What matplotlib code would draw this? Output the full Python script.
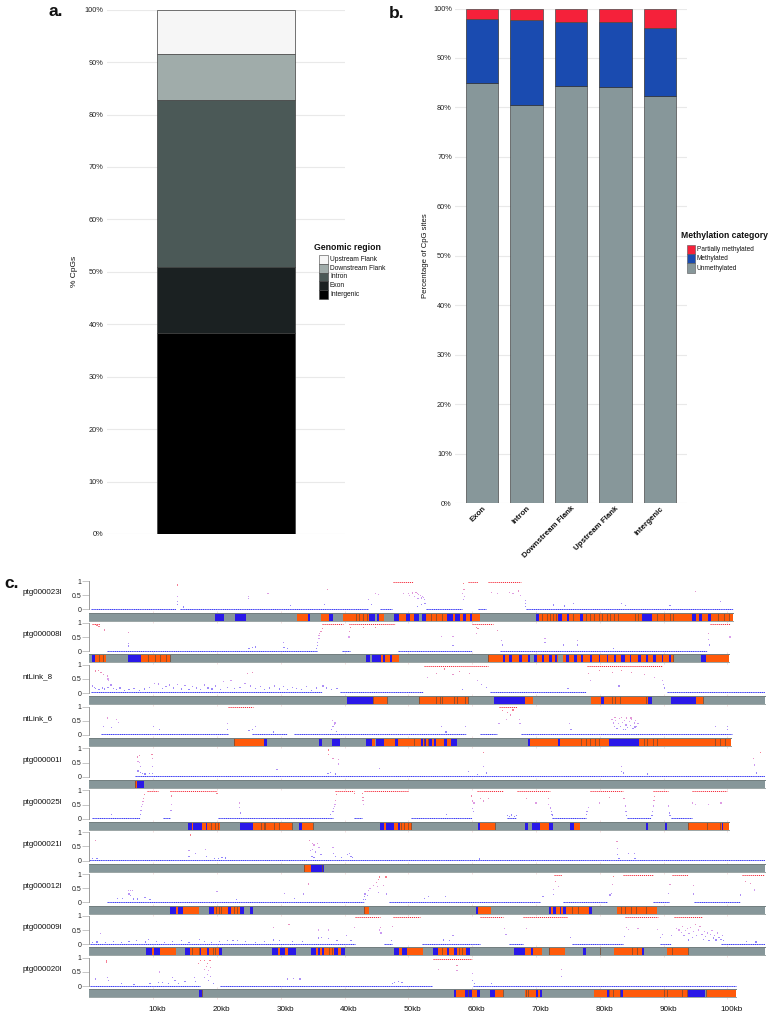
import matplotlib
matplotlib.use("Agg")
import matplotlib.pyplot as plt
from matplotlib.colors import LinearSegmentedColormap
from matplotlib.patches import Rectangle

plt.rcParams['font.family'] = ['Liberation Sans', 'DejaVu Sans']

W, H = 778, 1031

# PANEL A
region_names = ["Intergenic", "Exon", "Intron", "Downstream Flank", "Upstream Flank"]
region_pct = [38.3, 12.7, 31.8, 8.7, 8.5]
region_cols = ["#000000", "#1b2122", "#4b5957", "#a0acaa", "#f6f6f6"]

# PANEL B
feature_names = ["Exon", "Intron", "Downstream Flank", "Upstream Flank", "Intergenic"]
unmethylated = [85.0, 80.5, 84.3, 84.2, 82.3]
methylated = [12.8, 17.1, 13.0, 13.1, 13.8]
partial = [2.2, 2.4, 2.7, 2.7, 3.9]
meth_names = ["Partially methylated", "Methylated", "Unmethylated"]
meth_cols = ["#f5213a", "#1a4bb0", "#87979a"]

# PANEL C
track_names = ["ptg000023l", "ptg000008l", "ntLink_8", "ntLink_6", "ptg000001l",
               "ptg000025l", "ptg000021l", "ptg000012l", "ptg000009l", "ptg000020l"]
track_ends = [100.9, 100.3, 105.9, 100.5, 105.9, 100.2, 105.9, 105.9, 105.9, 101.3]
kb_ticks = [10, 20, 30, 40, 50, 60, 70, 80, 90, 100]

# runs of sites close to 0 and close to 1 (kb)
low_runs = [
    [(0.2, 13.6), (14.2, 43.7), (45.6, 47.4), (52.8, 58.4), (60.9, 62.2), (68.4, 100.9)],
    [(2.7, 35.6), (39.6, 40.9), (48.3, 60), (64.4, 96.8)],
    [(0.2, 36.4), (39.3, 52.3), (62.8, 77.9), (90.5, 105.9)],
    [(1.8, 21.8), (25.5, 30.9), (32, 59.1), (61.3, 63.9), (67.6, 100.7)],
    [(7.2, 105.9)],
    [(0.4, 8), (11.6, 12.7), (20.2, 38.2), (41.5, 42.8), (50.4, 59.9), (65.4, 66.9),
     (72.5, 77.9), (84.2, 88), (91.1, 94.4)],
    [(0, 105.9)],
    [(2.7, 43), (46.9, 70.6), (74.3, 81.2), (88.4, 90.8), (94.8, 101.9)],
    [(0.1, 41.6), (46.1, 47.4), (52.1, 61.2), (65.7, 68), (75.6, 83.7), (89.4, 91.1), (99, 105.9)],
    [(0.1, 17.3), (20.5, 53.7), (60.2, 101.3)],
]
high_runs = [
    [(47.6, 50.7), (59.4, 60.9), (62.4, 67.6)],
    [(0.4, 1.7), (36.4, 39.8), (40.9, 47.9), (60, 63.3), (97.2, 100.4)],
    [(52.4, 62.5), (78, 89.7)],
    [(21.8, 25.7), (64.2, 67)],
    [],
    [(9, 10.8), (12.9, 20), (38.5, 41.4), (43, 50), (60.7, 64.8), (67, 72.2), (78.5, 83.7),
     (88.4, 90.7), (94.4, 100)],
    [],
    [(72.8, 74.1), (83.7, 88.4), (91.3, 93.9), (102.3, 105.9)],
    [(41.6, 45.6), (47.6, 51.8), (61.2, 64.8), (68, 74.8), (84, 89.2), (91.6, 96)],
    [(53.9, 59.9)],
]

# sites away from the two plateaus: (kb, fraction methylated)
sites = [
    [(13.8, .86), (13.8, .45), (13.8, .28), (13.8, .16), (14.7, .08), (24.9, .45), (24.9, .37), (28, .55),
     (31.5, .13), (37.3, .69), (36.9, .16), (43.7, .34), (44.8, .55), (45.3, .51), (44.2, .16),
     (49.2, .55), (50, .57), (50.7, .58), (51.2, .6), (51.4, .55), (51.6, .52), (51.9, .5), (52.2, .45),
     (52, .4), (52.4, .42), (50.2, .5), (51, .45), (51.5, .38), (52.5, .35), (52.6, .2), (52, .18),
     (51.4, .1), (58.6, .92), (58.7, .7), (58.5, .55), (58.8, .45), (58.6, .35), (63, .6), (64, .55),
     (65.8, .6), (66.4, .55), (67.2, .65), (67.6, .5), (68.3, .3), (68.3, .2), (68.4, .1), (95, .63),
     (83.4, .2), (75.9, .2), (72.7, .15), (98.9, .28), (74.5, .12), (84, .14), (91, .13)],
    [(1, .95), (1.2, .9), (1.5, .88), (2.4, .75), (6.1, .65), (6.1, .28), (6.1, .18), (35.6, .1), (35.7, .2),
     (35.8, .3), (36, .45), (36, .55), (36.1, .62), (36.3, .7), (36.5, .8), (25, .1), (25.6, .12), (26, .15),
     (30.4, .3), (30.5, .12), (31, .1), (40.8, .95), (40.8, .7), (40.7, .5), (40.9, .85), (43, .85), (44.8, .85),
     (55.2, .53), (57, .53), (57, .2), (60.7, .85), (60.9, .8), (60.7, .62), (64, .72), (64.6, .38), (64.8, .22),
     (71.4, .45), (71.4, .3), (74.3, .22), (76.5, .37), (76.5, .22), (82.2, .1), (97, .62), (97, .4),
     (97.2, .22), (100.4, .5)],
    [(0.5, .25), (0.8, .2), (1, .78), (1.4, .8), (1.8, .72), (2.2, .65), (2.8, .6), (2.9, .5), (3, .45),
     (0.9, .15), (1.5, .12), (2, .18), (2.4, .14), (2.9, .2), (3.4, .28), (3.8, .15), (4.3, .12), (4.8, .18),
     (5.5, .1), (6.2, .12), (7, .16), (7.8, .1), (8.6, .14), (9.4, .2), (10.2, .35), (10.8, .32), (11.4, .16),
     (12, .22), (12.6, .28), (13.2, .18), (13.8, .3), (14.4, .14), (15, .26), (15.6, .12), (16.2, .22),
     (16.8, .18), (17.4, .12), (18, .28), (18.6, .18), (19.2, .14), (19.8, .25), (20.5, .12), (21, .42),
     (21.6, .2), (22.2, .45), (22.8, .15), (23.6, .2), (24.8, .68), (25.6, .72), (24.4, .35), (25.2, .25),
     (26, .15), (26.8, .22), (27.5, .12), (28.2, .18), (29, .25), (29.8, .14), (30.4, .22), (31, .12),
     (31.8, .2), (32.5, .16), (33.2, .12), (34, .22), (34.8, .1), (35.6, .18), (36.6, .25), (37.2, .18),
     (38, .12), (38.8, .15), (53, .55), (54.4, .7), (55.6, .85), (57, .65), (58, .75), (59.6, .7), (60.8, .45),
     (61.4, .3), (62.2, .2), (78.2, .7), (78.6, .45), (80, .8), (82, .72), (83.4, .8), (85, .72), (87, .65),
     (88.6, .55), (89.8, .45), (90, .3), (90.2, .18), (83, .25), (58.5, .12), (75, .15)],
    [(3.5, .25), (2.8, .6), (4.3, .55), (4.6, .45), (2.2, .3), (10, .3), (11, .2), (21.6, .4), (21.7, .2),
     (25, .15), (26, .3), (25.6, .2), (28.8, .1), (38.1, .5), (38.4, .38), (38.2, .3), (38, .2), (38.5, .42),
     (38.7, .12), (55.2, .3), (55.9, .1), (58.9, .3), (64.2, .4), (65.4, .55), (67.5, .4), (67.4, .55),
     (75.3, .4), (75.5, .2), (64.8, .85), (65.5, .78), (66, .7), (66.4, .88),
     (81.9, .55), (82.1, .42), (82.3, .3), (82.5, .5), (82.7, .22), (82.9, .4), (83.1, .58), (83.3, .3),
     (83.5, .45), (83.7, .2), (83.9, .52), (84.1, .35), (84.2, .6), (84.4, .25), (84.6, .48), (84.8, .32),
     (85, .55), (85.2, .22), (85.4, .42), (85.6, .5), (85.8, .3), (86, .4), (82.4, .62), (83.4, .62),
     (84.9, .6), (85.5, .28), (84, .18), (98.1, .3), (100, .2), (100, .3)],
    [(7.5, .7), (7.9, .75), (7.6, .55), (7.9, .5), (8, .35), (7.6, .2), (8, .15), (8.3, .12), (8.7, .1), (9.4, .12),
     (9.8, .8), (9.9, .65), (9.9, .35), (9.9, .12), (37.5, .95), (37.5, .8), (38.2, .65), (39, .6), (39.1, .45),
     (37.4, .12), (37.8, .15), (38.6, .1), (29.4, .25), (45.5, .3), (59.4, .18), (61.8, .85), (61.8, .35),
     (60.8, .08), (62.3, .13), (83.4, .36), (83.4, .18), (83.7, .13), (105.2, .87), (104.1, .65), (104.2, .42),
     (104.6, .13), (87.5, .1)],
    [(8, .15), (8.1, .3), (8.2, .42), (8.3, .5), (8.4, .6), (8.5, .7), (8.6, .85), (12.9, .5), (12.9, .8),
     (12.8, .95), (12.8, .3), (3.5, .15), (20, .9), (23.5, .4), (23.5, .55), (23.7, .2), (37.8, .15), (38.2, .25),
     (38.3, .35), (38.4, .42), (38.5, .5), (38.6, .65), (38.7, .85), (41.5, .9), (42.9, .75), (42.8, .9), (42.9, .65),
     (43, .5), (59.9, .8), (60, .62), (60.3, .55), (60.1, .35), (60.2, .25), (61.3, .72), (61.8, .62), (62.5, .7),
     (56, .15), (72, .5), (72.3, .38), (72.4, .25), (72.5, .15), (72.6, .12), (77.9, .15), (78, .25), (78.2, .4),
     (83.8, .7), (84, .45), (84.1, .25), (84.2, .1), (88.2, .1), (88.3, .25), (88.4, .45), (88.5, .65), (88.6, .78),
     (90.8, .45), (90.9, .2), (91, .12), (94.5, .55), (95, .5), (97, .5), (99, .55), (65.5, .12), (65.9, .08),
     (66.2, .13), (66.6, .07), (66.9, .12), (68.5, .7), (70, .55), (72, .7), (80, .55), (81.5, .75)],
    [(1, .7), (15.9, .9), (15.6, .35), (15.6, .15), (16.6, .25), (18.2, .4), (18.3, .15), (19.6, .06), (20.2, .08),
     (20.8, .1), (21.3, .09), (34.5, .7), (35, .6), (35.2, .55), (35.8, .6), (36, .45), (35, .4), (34.7, .35),
     (35.4, .3), (34.9, .15), (35.2, .1), (36.3, .2), (38.2, .45), (38.3, .25), (38.6, .15), (39.5, .1), (40.5, .2),
     (40.8, .25), (41, .15), (41.2, .1), (82.7, .68), (82.8, .43), (82.8, .2), (83, .08), (84.5, .25), (85.4, .25),
     (85.5, .08), (61.2, .05), (0.5, .08), (1.2, .06)],
    [(6.1, .42), (6.4, .42), (6.7, .42), (6.2, .3), (6.5, .25), (6.9, .12), (4.4, .15), (5.2, .14), (8.7, .18),
     (7.5, .12), (9.5, .1), (20, .38), (23.1, .1), (30.6, .32), (32.2, .15), (33.5, .3), (34.3, .65), (43, .1),
     (43.1, .2), (43.2, .3), (43.3, .1), (43.6, .25), (43.8, .42), (44, .5), (44.5, .6), (45, .7), (45.3, .8),
     (45.5, .9), (46.5, .9), (45.2, .55), (45.3, .35), (46.1, .6), (46.6, .3), (53.1, .2), (52.5, .15), (55.8, .2),
     (71.1, .2), (72.7, .45), (72.7, .28), (73.5, .55), (73, .75), (82.1, .92), (82, .62), (81.8, .32), (81.6, .26),
     (90.8, .32), (91, .62), (94.7, .6), (94.7, .3), (102.1, .26), (102.8, .74), (103.6, .68), (104.3, .44)],
    [(1.7, .38), (0.5, .06), (1.2, .08), (2.5, .07), (3.8, .1), (5, .07), (6.2, .09), (7.4, .12), (8.8, .08), (9.3, .18),
     (10.5, .1), (11.8, .07), (13, .09), (14.4, .12), (15.6, .07), (17.2, .18), (18, .1), (19.1, .07), (20.4, .09),
     (21.6, .12), (22.5, .14), (23.2, .12), (24.5, .1), (26, .07), (27.5, .1), (28.8, .15), (28.9, .6), (29.8, .12),
     (31.3, .7), (31.8, .1), (33.4, .09), (35.9, .5), (37.5, .5), (35.9, .22), (36.4, .25), (37.5, .2), (38.8, .12),
     (40.3, .32), (41.5, .58), (41, .12), (45.6, .6), (45.7, .4), (45.5, .5), (47.5, .62), (47.4, .12),
     (55.5, .15), (56.5, .12), (57, .3), (65.1, .55), (65.3, .35), (68.5, .55), (75.4, .25), (83.9, .28), (84.2, .6),
     (84.5, .52), (86, .55), (89, .52), (89.5, .25),
     (92, .55), (92.4, .5), (92.8, .42), (93, .62), (93.2, .3), (93.4, .48), (93.7, .55), (93.9, .15), (94, .38),
     (94.2, .6), (94.5, .25), (94.7, .45), (95, .7), (95.2, .3), (95.5, .5), (95.7, .62), (96, .35), (96.2, .18),
     (96.4, .45), (96.6, .28), (96.9, .4), (97.1, .12), (97.3, .35), (97.6, .48), (97.8, .22), (98, .32), (98.2, .15),
     (98.5, .4), (98.7, .25), (99, .18), (99.2, .32), (99.4, .12), (103, .1), (104.5, .08), (91.2, .3), (89.8, .35)],
    [(2.7, .9), (2.7, .85), (2.8, .3), (3, .2), (11, .5), (13, .3), (13.4, .2), (17.1, .8), (17.4, .9), (18, .9),
     (18.5, .8), (18.9, .9), (18.4, .7), (18, .6), (19, .65), (18.7, .55), (18.5, .4), (19, .35), (18, .3), (18.7, .2),
     (19.5, .1), (16.5, .3), (16.6, .15), (15, .15), (14, .1), (1, .25), (31, .25), (32, .27), (33, .25), (5, .08),
     (7, .07), (9.5, .1), (10.8, .14), (11.4, .12), (12.4, .08), (47.8, .12), (48.4, .16), (49, .13), (47.5, .1),
     (54.7, .6), (57.6, .74), (57.6, .56), (60, .45), (60, .2), (74, .59), (74, .33), (60.4, .1), (63, .08)],
]

# annotated intervals along each contig (kb)
orange_segs = [
    [(32.6, 34.3), (36.3, 37.5), (39.8, 43.9), (45.4, 46.1), (48.6, 49.6), (50.3, 50.9), (52.8, 56.1), (57, 57.3),
     (58.1, 58.5), (59, 59.7), (59.9, 61.3), (70.4, 86.6), (88.2, 100.9)],
    [(0.9, 2.6), (8.1, 12.7), (45.7, 48.5), (62.5, 69.1), (69.7, 73.5), (74.2, 91.6), (96.7, 100.3)],
    [(44.4, 46.7), (51.6, 59.4), (68.3, 69.6), (78.6, 87.6), (95, 96.2)],
    [(22.6, 27.4), (44.3, 44.8), (46.1, 56.6), (69.1, 81.5), (86.2, 100.5)],
    [(7.2, 7.5)],
    [(16.1, 16.3), (17.7, 20.5), (25.7, 31.7), (33.3, 35), (46.2, 46.5), (47.8, 50.5), (61.3, 63.5), (70.7, 72),
     (76, 76.9), (93.9, 100.2)],
    [(33.7, 34.7)],
    [(13.5, 13.9), (14.7, 17.2), (19.5, 21.7), (22.2, 23.6), (43.1, 43.9), (60.9, 63), (72.4, 78.3), (82.7, 88.9)],
    [(9.8, 10.1), (11, 13.5), (15.8, 20.3), (29.5, 29.8), (30.7, 31.2), (35.5, 40), (48.6, 49), (49.8, 52.3),
     (54.7, 59.7), (68.2, 71), (72.1, 74.5), (82.2, 86.6), (90.5, 93.8)],
    [(57.4, 60.7), (63.6, 64.8), (68.3, 71), (79.1, 93.9), (96.8, 101.3)],
]
blue_segs = [
    [(19.7, 21.1), (22.8, 24.6), (34.3, 34.6), (37.5, 38.2), (43.9, 44.7), (45.1, 45.4), (47.8, 48.6), (49.6, 50.3),
     (50.9, 51.6), (52.1, 52.8), (56.1, 57), (57.3, 58.1), (58.5, 59), (59.7, 59.9), (70, 70.4), (73.5, 74),
     (74.8, 75.2), (76.9, 77.3), (86.6, 88.2), (94.4, 95), (95.5, 96), (97, 97.5)],
    [(0.4, 0.9), (6, 8.1), (43.4, 44), (44.3, 45.7), (46, 46.3), (47.1, 47.5), (64.8, 65.2), (65.8, 66.2), (67.4, 67.8),
     (68.7, 69.1), (69.7, 70.1), (70.9, 71.3), (72.1, 72.5), (73, 73.3), (74.7, 75.1), (76, 76.4), (77, 77.4),
     (78.5, 78.7), (79.8, 80), (81.1, 81.3), (82.2, 82.6), (83.4, 84), (84.7, 84.9), (86, 86.4), (87.3, 87.6),
     (88.4, 88.8), (89.7, 89.9), (90.9, 91.2), (95.9, 96.7)],
    [(40.4, 44.4), (63.4, 68.3), (80.2, 80.6), (87.6, 88.2), (91.2, 95)],
    [(27.4, 27.8), (36, 36.5), (38, 39.3), (43.4, 44.3), (44.9, 46.1), (47.9, 48.3), (52, 52.3), (52.5, 52.8),
     (53.3, 53.7), (54, 54.3), (55.6, 56), (56.6, 57.6), (68.8, 69.1), (73.4, 73.8), (81.5, 86.2)],
    [(7.5, 8.5)],
    [(15.4, 16.1), (16.3, 17.7), (18.3, 18.5), (23.6, 25.7), (32.9, 33.3), (45.6, 46.2), (46.5, 47.8), (48.4, 48.7),
     (60.9, 61.3), (68.2, 68.8), (69.3, 70.7), (72, 72.6), (75.3, 76), (87.2, 87.6), (90.2, 90.6), (99.1, 99.3)],
    [(34.7, 36.7)],
    [(12.6, 13.5), (13.9, 14.7), (18.8, 19.5), (21.8, 22.2), (23.6, 24.2), (25.2, 25.6), (60.6, 60.9), (72, 72.4),
     (72.7, 73.1), (73.7, 73.9), (74.2, 74.7), (78.3, 78.7)],
    [(8.9, 9.8), (10.1, 11), (15, 15.8), (17.3, 17.5), (18.4, 18.8), (20.3, 20.8), (28.6, 29.5), (29.8, 30.7),
     (31.2, 32.4), (34.7, 35.5), (35.8, 36.1), (36.5, 36.8), (38.4, 39), (39.5, 40), (47.8, 48.6), (49, 49.8),
     (53.9, 54.7), (56.1, 56.4), (57.2, 57.6), (59.1, 59.7), (66.6, 68.2), (69.2, 69.5), (77.3, 77.9), (86.6, 87)],
    [(17.2, 17.6), (57.1, 57.4), (58.9, 59.9), (60.7, 61.2), (62.8, 63.6), (70, 70.3), (70.7, 71), (81.2, 81.5),
     (83.2, 83.7), (93.9, 96.5)],
]
dark_lines = [
    [41.8, 42.3, 42.9, 43.5, 53.5, 54.4, 55.2, 70.9, 71.7, 72.2, 72.7, 73.2, 75.8, 77.8, 78.5, 79.1, 79.8, 80.4, 81.1, 81.6,
     82.2, 82.8, 85.5, 86, 88.9, 90, 91, 91.5, 98.6, 99.4, 100.2],
    [1.5, 2.1, 9.2, 10.3, 11.1, 12, 12.6, 62.5, 91.5],
    [44.4, 46.6, 51.7, 54.4, 54.9, 55.2, 57.1, 57.6, 58.9, 59.3, 81.9, 82.4, 83.2, 87.2, 96.1],
    [22.6, 50.8, 52.4, 53, 77, 77.9, 78.5, 79.3, 79.8, 86.9, 87.4, 88.4, 89, 98.1, 98.8, 99.6],
    [7.2],
    [19, 19.7, 20.2, 26.9, 27.3, 27.6, 28.9, 29.7, 31.7, 35, 48.8, 49.3, 49.9, 50.4, 63.5, 93.9, 96.8, 98.8],
    [33.7, 36.4],
    [19.9, 20.3, 20.7, 22.7, 23.2, 43.1, 75.7, 76.6, 83.4, 84, 84.9, 85.6, 87.2],
    [16.1, 17.2, 19.3, 19.7, 37.6, 38.1, 55.2, 58, 58.4, 72.1, 80, 85, 85.8, 91.3, 93.9],
    [17.7, 59.4, 64.8, 68.4, 68.7, 81.5, 82, 83.1, 90, 90.6, 92.9, 93.7, 96.7],
]

px_per_kb = 6.38
x_start = 89.4
x_end = 765.0
first_top = 581.0
row_step = 41.87
row_h = 28.3
bar_gap = 3.2
bar_h = 8.0

GRAY = "#87979a"
ORANGE = "#ff5a0a"
BLUE = "#2a18e8"
DARK = "#7a4a30"
GRID = "#e9e9e9"

meth_cmap = LinearSegmentedColormap.from_list("meth", ["#3a3aff", "#c86ee6", "#ff2a2a"])


def px_axes(fig, left, top, right, bottom):
    return fig.add_axes([left/W, 1-bottom/H, (right-left)/W, (bottom-top)/H])


fig = plt.figure(figsize=(W/100, H/100), dpi=100)

# a. genomic region share
ax = px_axes(fig, 107, 9.7, 345, 534)
bottom = 0
for pct, col in zip(region_pct, region_cols):
    ax.bar(0, pct, bottom=bottom, width=0.584, color=col, edgecolor="#3c3c3c", linewidth=0.5, zorder=3)
    bottom += pct
ax.set_xlim(-0.5, 0.5)
ax.set_ylim(0, 100)
ax.set_yticks(range(0, 101, 10))
ax.set_yticklabels([f"{v}%" for v in range(0, 101, 10)], fontsize=5.3, color="#222222")
ax.set_xticks([])
ax.grid(axis="y", color=GRID, linewidth=0.8)
ax.set_axisbelow(True)
ax.tick_params(axis="y", length=0, pad=2.5)
for s in ax.spines.values():
    s.set_visible(False)
ax.patch.set_alpha(0)
ax.set_ylabel("% CpGs", fontsize=6, labelpad=4.5, color="#111111")

# b. methylation category per region
ax = px_axes(fig, 455.3, 8.5, 686.7, 503)
pos = list(range(len(feature_names)))
bot2 = [u+m for u, m in zip(unmethylated, methylated)]
ax.bar(pos, unmethylated, width=0.72, color=meth_cols[2], edgecolor="#4a4a4a", linewidth=0.5, zorder=3)
ax.bar(pos, methylated, bottom=unmethylated, width=0.72, color=meth_cols[1], edgecolor="#303030", linewidth=0.5, zorder=3)
ax.bar(pos, partial, bottom=bot2, width=0.72, color=meth_cols[0], edgecolor="#4a4a4a", linewidth=0.5, zorder=3)
ax.set_xlim(-0.6, 4.6)
ax.set_ylim(0, 100)
ax.set_yticks(range(0, 101, 10))
ax.set_yticklabels([f"{v}%" for v in range(0, 101, 10)], fontsize=5.3, color="#222222")
ax.set_xticks(pos)
ax.set_xticklabels(feature_names, rotation=45, ha="right", rotation_mode="anchor",
                   fontsize=5.7, fontweight="bold", color="#111111")
ax.grid(axis="y", color=GRID, linewidth=0.8)
ax.set_axisbelow(True)
ax.tick_params(axis="y", length=0, pad=2.5)
ax.tick_params(axis="x", length=0, pad=1.5)
for s in ax.spines.values():
    s.set_visible(False)
ax.patch.set_alpha(0)
ax.set_ylabel("Percentage of CpG sites", fontsize=5.6, labelpad=3, color="#111111")

# c. one row per contig: methylation profile over annotation bar
for i, name in enumerate(track_names):
    top = first_top + i*row_step
    zero = top + row_h
    ax = px_axes(fig, x_start, top-1.4, x_end, zero+1.4)
    ax.set_xlim(0, (x_end-x_start)/px_per_kb)
    ax.set_ylim(-0.05, 1.05)
    for a, b in low_runs[i]:
        ax.plot([a, b], [0.02, 0.02], color="#3c3cf4", linewidth=0.7, linestyle=(0, (1.4, 0.5)), zorder=2)
    for a, b in high_runs[i]:
        ax.plot([a, b], [0.97, 0.97], color="#f52a3a", linewidth=0.7, linestyle=(0, (1.2, 0.9)), zorder=2)
    xs = [p[0] for p in sites[i]]
    ys = [p[1] for p in sites[i]]
    ax.scatter(xs, ys, c=ys, cmap=meth_cmap, vmin=0, vmax=1, s=0.8, marker="s", linewidths=0, alpha=0.65,
               zorder=3, clip_on=False)
    for s in ["top", "right", "bottom"]:
        ax.spines[s].set_visible(False)
    ax.spines["left"].set_bounds(0, 1)
    ax.spines["left"].set_color("#8c8c8c")
    ax.spines["left"].set_linewidth(0.6)
    ax.set_yticks([0, 0.5, 1])
    ax.set_yticklabels(["0", "0.5", "1"], fontsize=5, color="#222222")
    ax.tick_params(axis="y", length=5, width=0.6, color="#bdbdbd", pad=0.8)
    ax.set_xticks([])
    ax.patch.set_alpha(0)

    bar_top = zero + bar_gap
    bx = px_axes(fig, x_start, bar_top, x_end, bar_top+bar_h)
    bx.set_xlim(0, (x_end-x_start)/px_per_kb)
    bx.set_ylim(0, 1)
    bx.add_patch(Rectangle((0, 0), track_ends[i], 1, facecolor=GRAY, edgecolor="none", zorder=1))
    bx.plot([0, track_ends[i]], [1, 1], color="#737f80", linewidth=0.7, zorder=5, clip_on=False)
    bx.plot([0, track_ends[i]], [0, 0], color="#9aa5a5", linewidth=0.7, zorder=5, clip_on=False)
    bx.broken_barh([(a, b-a) for a, b in orange_segs[i]], (0, 1), facecolors=ORANGE, zorder=2)
    bx.broken_barh([(a, b-a) for a, b in blue_segs[i]], (0, 1), facecolors=BLUE, zorder=3)
    bx.vlines(dark_lines[i], 0, 1, colors=DARK, linewidth=0.55, zorder=4)
    bx.set_yticks([])
    bx.set_xticks(kb_ticks)
    bx.set_xticklabels([])
    bx.tick_params(axis="x", length=1.4, width=0.4, color="#edc9c9", top=True, bottom=True)
    for s in bx.spines.values():
        s.set_visible(False)
    bx.patch.set_alpha(0)
    if i == len(track_names)-1:
        for k in kb_ticks:
            bx.annotate(f"{k}kb", (k, 0), xycoords=("data", "axes fraction"), xytext=(3.2, -8.5),
                        textcoords="offset points", ha="center", va="center", fontsize=5.9, color="#111111",
                        annotation_clip=False)

# labels and legends placed in figure pixels
ov = fig.add_axes([0, 0, 1, 1])
ov.set_xlim(0, W)
ov.set_ylim(H, 0)
ov.axis("off")
ov.patch.set_alpha(0)

for letter, lx, ly in [("a.", 49, 11), ("b.", 389, 13), ("c.", 4, 583)]:
    ov.text(lx, ly, letter, fontsize=12.5, fontweight="bold", va="center", ha="left", color="#111111")

for i, name in enumerate(track_names):
    ov.text(23, first_top + i*row_step + 12, name, fontsize=5.8, va="center", ha="left", color="#111111")

ov.text(314, 247.5, "Genomic region", fontsize=6.3, fontweight="bold", va="center", color="#111111")
leg_names = region_names[::-1]
leg_cols = region_cols[::-1]
for j, (nm, col) in enumerate(zip(leg_names, leg_cols)):
    y = 255 + j*8.8
    ov.add_patch(Rectangle((318.7, y), 9, 8.8, facecolor=col, edgecolor="#444444", linewidth=0.4))
    ov.text(330, y+4.4, nm, fontsize=4.8, va="center", color="#111111")

ov.text(680.7, 236, "Methylation category", fontsize=6.2, fontweight="bold", va="center", color="#111111")
for j, (nm, col) in enumerate(zip(meth_names, meth_cols)):
    y = 245 + j*9.2
    ov.add_patch(Rectangle((687, y), 8.3, 9.2, facecolor=col, edgecolor="#555555", linewidth=0.4))
    ov.text(697, y+4.6, nm, fontsize=4.7, va="center", color="#111111")

fig.savefig("out.png", dpi=100)
